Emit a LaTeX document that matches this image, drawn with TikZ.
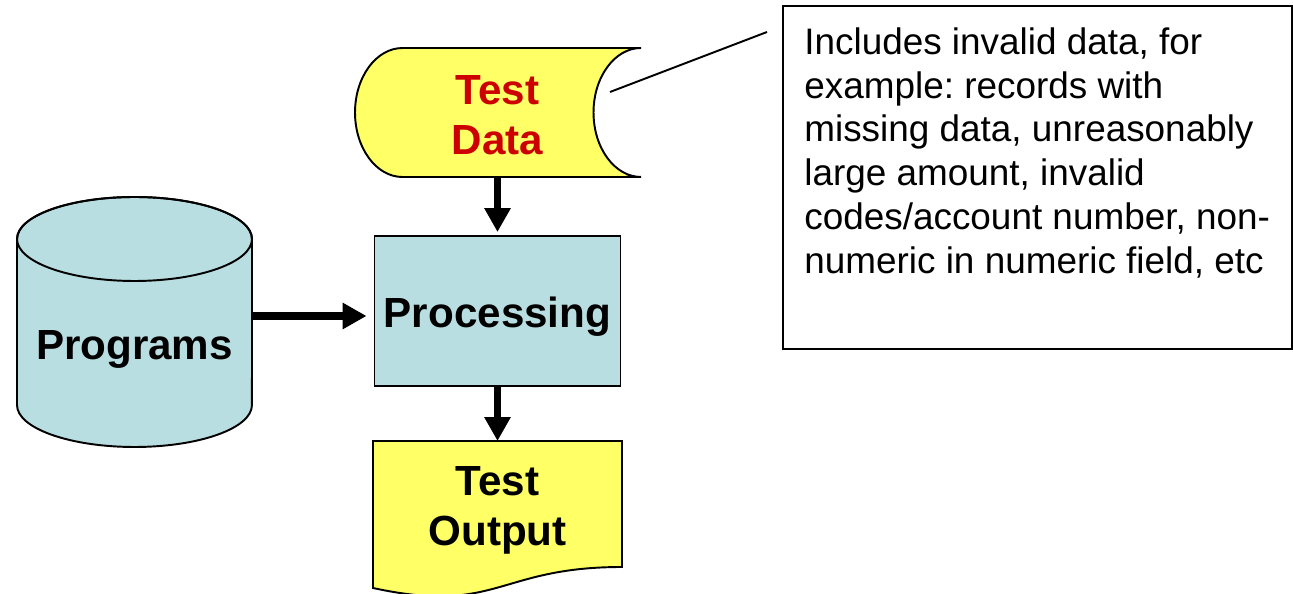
\documentclass[tikz,border=0pt]{standalone}
\usepackage{fontspec}
\setmainfont{Liberation Sans}
\usetikzlibrary{arrows.meta}
\definecolor{tdyellow}{RGB}{255,255,102}
\definecolor{procblue}{RGB}{185,222,226}
\definecolor{tdred}{RGB}{204,0,0}
\frenchspacing
\begin{document}
\begin{tikzpicture}[x=0.02cm,y=0.02cm,
  shapeline/.style={draw=black,line width=1.1pt},
  lbl/.style={font=\bfseries\fontsize{24}{28.5}\selectfont,align=center,inner sep=0pt},
  arr/.style={line width=4pt,-{Triangle[length=0.48cm,width=0.5cm]}},
  hold/.style={inner sep=0pt,outer sep=0pt}]
\useasboundingbox (0,0) rectangle (1293,594);

% Test Data (stored data shape)
\node[hold,minimum width=5.7cm,minimum height=2.58cm] (td) at (497.5,481.5) {};
\draw[shapeline,fill=tdyellow] (402.5,546) -- (641,546)
  arc[start angle=90,end angle=270,x radius=0.95cm,y radius=1.29cm]
  -- (402.5,417)
  arc[start angle=270,end angle=90,x radius=0.95cm,y radius=1.29cm] -- cycle;
\node[lbl,text=tdred] (tdlbl) at (497.5,479) {Test\\Data};

% Processing
\node[shapeline,fill=procblue,minimum width=4.92cm,minimum height=3cm,inner sep=0pt] (proc) at (497.5,283) {};
\node[lbl] (proclbl) at (497.5,277) {Processing};

% Programs cylinder
\node[hold,minimum width=4.7cm,minimum height=5cm] (prog) at (134.5,278) {};
\draw[shapeline,fill=procblue] (17,355) -- (17,189)
  arc[start angle=180,end angle=360,x radius=2.35cm,y radius=0.84cm]
  -- (252,355)
  arc[start angle=0,end angle=180,x radius=2.35cm,y radius=0.84cm] -- cycle;
\draw[shapeline] (134.5,355) ellipse[x radius=2.35cm,y radius=0.84cm];
\node[lbl] (proglbl) at (134.5,245) {Programs};

% Test Output (document shape)
\node[hold,minimum width=4.98cm,minimum height=3.14cm] (to) at (497.5,74.5) {};
\draw[shapeline,fill=tdyellow] (373,153) -- (622,153) -- (622,27)
  .. controls (497.5,27) and (497.5,-21) .. (373,6) -- cycle;
\node[lbl] (tolbl) at (497.5,83.5) {Test\\Output};

% Arrows
\draw[arr,shorten >=0.06cm] (td.south) -- (proc.north);
\draw[arr] (proc.south) -- (to.north);
\draw[arr,shorten >=0.14cm] (prog.east) -- (prog.east -| proc.west);

% Callout
\node[draw=black,line width=1.1pt,minimum width=10.18cm,minimum height=6.86cm,inner sep=0pt] (callout) at (1037.5,416.5) {};
\node[anchor=north west,align=left,inner sep=0pt,font=\fontsize{21}{25}\selectfont] (callouttxt) at (804,567)
  {Includes invalid data, for\\example: records with\\missing data, unreasonably\\large amount, invalid\\codes/account number, non-\\numeric in numeric field, etc};
\coordinate (cl1) at (610,502);
\coordinate (cl2) at (767,562);
\draw[line width=1.1pt] (cl1) -- (cl2);
\end{tikzpicture}
\end{document}
